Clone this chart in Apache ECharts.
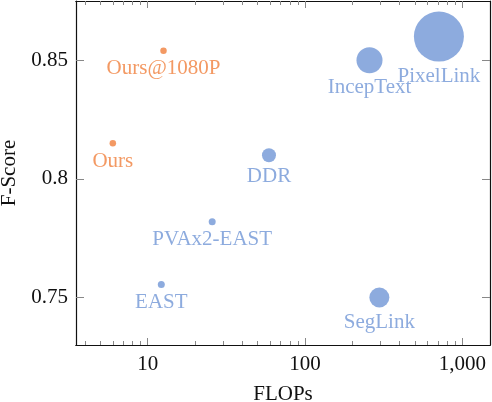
<!DOCTYPE html>
<html>
<head>
<meta charset="utf-8">
<script src="https://cdn.jsdelivr.net/npm/echarts@6/dist/echarts.min.js"></script>
<style>
  html, body { margin: 0; padding: 0; background: #fff; }
  #chart { width: 492px; height: 402px; }
</style>
</head>
<body>
<div id="chart"></div>
<script>
// methods, FLOPs (x, log), F-Score (y), bubble weight
var names = ['Ours@1080P', 'Ours', 'EAST', 'PVAx2-EAST', 'DDR', 'IncepText', 'PixelLink', 'SegLink'];
var flops = [12.6, 6.0, 12.2, 25.7, 59, 257, 710, 297];
var fscore = [0.854, 0.815, 0.7555, 0.782, 0.810, 0.850, 0.860, 0.750];
var weights = [6.5, 6.5, 7, 7, 14, 26, 50, 20];
var ours = [true, true, false, false, false, false, false, false];

var majorX = [10, 100, 1000];
var minorX = [4, 5, 6, 7, 8, 9, 20, 30, 40, 50, 60, 70, 80, 90, 200, 300, 400, 500, 600, 700, 800, 900];
var yTicks = [0.75, 0.8, 0.85];

var ORANGE = '#F0803C', BLUE = '#7096D6';
var FONT = '"Liberation Serif", "DejaVu Serif", serif';

var points = [];
for (var i = 0; i < names.length; i++) {
  var c = ours[i] ? ORANGE : BLUE;
  points.push({
    name: names[i],
    value: [flops[i], fscore[i], weights[i]],
    itemStyle: { color: c },
    label: { color: c }
  });
}

function xAxisOf(pos, ticks, len, showLabel, extra) {
  var ax = {
    type: 'log', logBase: 10, min: 3.5, max: 1500, position: pos,
    axisLine: { show: true, onZero: false, lineStyle: { color: '#111', width: 1.2 } },
    axisTick: { show: true, inside: true, length: len, customValues: ticks, lineStyle: { color: '#888', width: 1 } },
    axisLabel: { show: showLabel, customValues: ticks, margin: 9, color: '#111', fontFamily: FONT, fontSize: 21,
      formatter: function (v) { return String(Math.round(v)).replace(/\B(?=(\d{3})+(?!\d))/g, ','); } },
    splitLine: { show: false }
  };
  for (var k in extra) ax[k] = extra[k];
  return ax;
}

function yAxisOf(pos, showLabel, extra) {
  var ax = {
    type: 'value', min: 0.73, max: 0.875, position: pos,
    axisLine: { show: true, onZero: false, lineStyle: { color: '#111', width: 1.2 } },
    axisTick: { show: true, inside: true, length: 8, customValues: yTicks, lineStyle: { color: '#888', width: 1 } },
    axisLabel: { show: showLabel, customValues: yTicks, margin: 8, color: '#111', fontFamily: FONT, fontSize: 21 },
    splitLine: { show: false }
  };
  for (var k in extra) ax[k] = extra[k];
  return ax;
}

var chart = echarts.init(document.getElementById('chart'));
chart.setOption({
  backgroundColor: '#fff',
  animation: false,
  grid: { left: 76, right: 2, top: 1, bottom: 57, containLabel: false, outerBoundsMode: 'none' },
  xAxis: [
    xAxisOf('bottom', majorX, 7, true, {
      name: 'FLOPs', nameLocation: 'middle', nameGap: 39,
      nameTextStyle: { color: '#111', fontFamily: FONT, fontSize: 21 }
    }),
    xAxisOf('bottom', minorX, 4, false, {}),
    xAxisOf('top', majorX, 7, false, {}),
    xAxisOf('top', minorX, 4, false, {})
  ],
  yAxis: [
    yAxisOf('left', true, {
      name: 'F-Score', nameLocation: 'middle', nameGap: 55, nameRotate: 90,
      nameTextStyle: { color: '#111', fontFamily: FONT, fontSize: 21 }
    }),
    yAxisOf('right', false, {})
  ],
  series: [{
    type: 'scatter',
    xAxisIndex: 0,
    yAxisIndex: 0,
    data: points,
    symbolSize: function (v) { return v[2]; },
    label: {
      show: true, position: 'bottom', distance: 4,
      formatter: '{b}', fontFamily: FONT, fontSize: 21, lineHeight: 21
    }
  }]
});
</script>
</body>
</html>
